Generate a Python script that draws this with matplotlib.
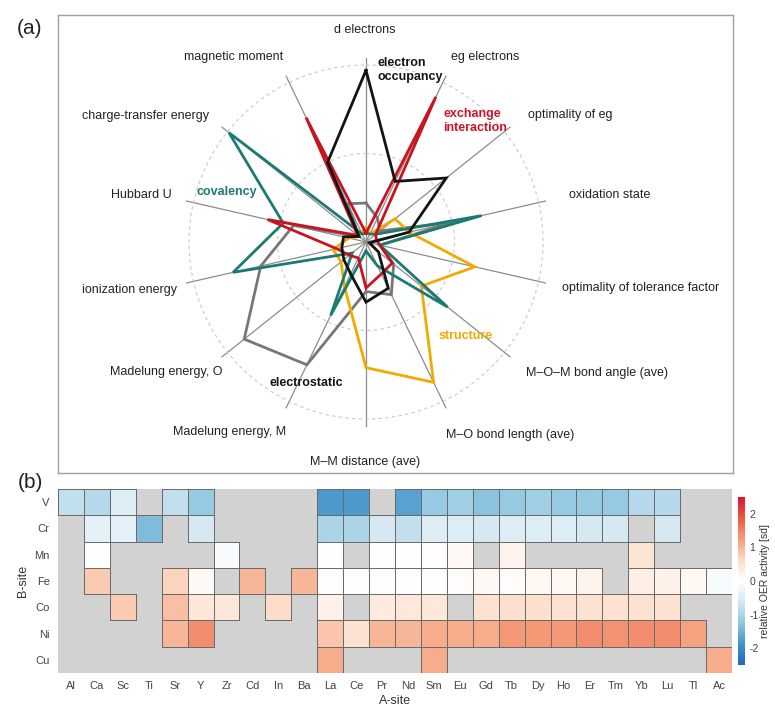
import numpy as np
import matplotlib
matplotlib.use("Agg")
import matplotlib.pyplot as plt
from matplotlib.colors import LinearSegmentedColormap

plt.rcParams['font.family'] = ['Liberation Sans', 'DejaVu Sans']
plt.rcParams['axes.unicode_minus'] = False

# ---------------- data: radar ----------------
spoke_labels = ["d electrons", "eg electrons", "optimality of eg", "oxidation state",
                "optimality of tolerance factor", "M\u2013O\u2013M bond angle (ave)",
                "M\u2013O bond length (ave)", "M\u2013M distance (ave)", "Madelung energy, M",
                "Madelung energy, O", "ionization energy", "Hubbard U",
                "charge-transfer energy", "magnetic moment"]

electron_occupancy = [0.97, 0.38, 0.58, 0.25, 0.02, 0.09, 0.29, 0.34, 0.20, 0.16, 0.14, 0.13, 0.05, 0.50]
exchange_interaction = [0.05, 0.91, 0.07, 0.06, 0.08, 0.19, 0.20, 0.26, 0.10, 0.12, 0.17, 0.57, 0.06, 0.78]
covalency = [0.05, 0.05, 0.07, 0.67, 0.08, 0.59, 0.15, 0.05, 0.46, 0.10, 0.77, 0.48, 0.99, 0.05]
electrostatic = [0.22, 0.15, 0.10, 0.50, 0.08, 0.20, 0.33, 0.28, 0.77, 0.88, 0.61, 0.42, 0.05, 0.24]
structure = [0.08, 0.05, 0.21, 0.25, 0.63, 0.40, 0.88, 0.71, 0.28, 0.18, 0.19, 0.10, 0.05, 0.06]

# ---------------- data: heatmap ----------------
a_sites = ["Al", "Ca", "Sc", "Ti", "Sr", "Y", "Zr", "Cd", "In", "Ba", "La", "Ce", "Pr",
           "Nd", "Sm", "Eu", "Gd", "Tb", "Dy", "Ho", "Er", "Tm", "Yb", "Lu", "Tl", "Ac"]
b_sites = ["V", "Cr", "Mn", "Fe", "Co", "Ni", "Cu"]
N = np.nan
row_V  = [-0.8, -0.9, -0.5, N, -0.8, -1.2, N, N, N, N, -1.8, -1.8, N, -1.7, -1.2, -1.1, -1.3, -1.2, -1.1, -1.2, -1.2, -1.2, -0.9, -0.9, N, N]
row_Cr = [N, -0.4, -0.4, -1.4, N, -0.6, N, N, N, N, -1.0, -1.0, -0.6, -0.8, -0.5, -0.5, -0.6, -0.5, -0.5, -0.5, -0.6, -0.6, N, -0.6, N, N]
row_Mn = [N, 0.0, N, N, N, N, -0.1, N, N, N, 0.0, N, 0.0, 0.0, 0.05, 0.1, N, 0.2, N, N, N, N, 0.45, N, N, N]
row_Fe = [N, 0.8, N, N, 0.7, 0.1, N, 1.0, N, 1.0, -0.05, -0.05, -0.05, 0.0, 0.0, 0.05, 0.1, 0.05, 0.15, 0.15, 0.2, N, 0.3, 0.25, 0.15, -0.15]
row_Co = [N, N, 0.8, N, 0.9, 0.4, 0.4, N, 0.6, N, 0.25, N, 0.35, 0.4, 0.4, N, 0.5, 0.55, 0.55, 0.5, 0.5, 0.5, 0.5, 0.5, N, N]
row_Ni = [N, N, N, N, 1.0, 1.4, N, N, N, N, 0.85, 0.5, 1.0, 1.0, 1.1, 1.1, 1.1, 1.3, 1.3, 1.3, 1.4, 1.35, 1.4, 1.4, 1.2, N]
row_Cu = [N, N, N, N, N, N, N, N, N, N, 1.1, N, N, N, 1.1, N, N, N, N, N, N, N, N, N, N, 1.1]
cbar_ticks = [-2, -1, 0, 1, 2]

W, H = 775, 710
fig = plt.figure(figsize=(W / 100, H / 100), dpi=100)


def fx(x):
    return x / W


def fy(y):
    return 1 - y / H


# frame of panel (a)
axf = fig.add_axes([fx(58), fy(473), (733 - 58) / W, (473 - 15) / H])
axf.set_xticks([])
axf.set_yticks([])
for s in axf.spines.values():
    s.set_color("#a0a0a0")
    s.set_linewidth(1.0)

# radar
cx, cy, R = 366, 242, 177
rmax = 1.1
ax = fig.add_axes([fx(cx - R * rmax), fy(cy + R * rmax), 2 * R * rmax / W, 2 * R * rmax / H],
                  projection="polar")
ax.set_theta_zero_location("N")
ax.set_theta_direction(-1)
ax.set_ylim(0, rmax)
ax.grid(False)
ax.set_xticks([])
ax.set_yticks([])
ax.spines["polar"].set_visible(False)
ax.patch.set_alpha(0)

n = len(spoke_labels)
theta = np.arange(n) * 2 * np.pi / n
for t in theta:
    ax.plot([t, t], [0, 1.04], color="#8c8c8c", lw=0.9, zorder=1)
circ = np.linspace(0, 2 * np.pi, 400)
for rr in (0.5, 1.0):
    ax.plot(circ, np.full_like(circ, rr), color="#c8c8c8", lw=0.8, ls=(0, (3, 3)), zorder=1)

series = [(electrostatic, "#777777"), (structure, "#f2a900"), (covalency, "#1b7a72"),
          (exchange_interaction, "#c8141f"), (electron_occupancy, "#141414")]
for vals, col in series:
    v = np.array(vals + vals[:1])
    th = np.append(theta, theta[0])
    ax.plot(th, v, color=col, lw=2.0, solid_joinstyle="miter", zorder=3)

label_pos = [(365, 30), (485, 57), (570, 115), (610, 195), (641, 288), (597, 373),
             (510, 435), (365, 462), (230, 432), (166, 372), (129, 290), (141, 195),
             (146, 116), (234, 57)]
for lab, (x, y) in zip(spoke_labels, label_pos):
    fig.text(fx(x), fy(y), lab, ha="center", va="center", fontsize=9, color="#222222")

fig.text(fx(377), fy(70), "electron\noccupancy", ha="left", va="center", fontsize=9,
         fontweight="bold", color="#141414", linespacing=1.15)
fig.text(fx(443), fy(121), "exchange\ninteraction", ha="left", va="center", fontsize=9,
         fontweight="bold", color="#d0142a", linespacing=1.15)
fig.text(fx(227), fy(192), "covalency", ha="center", va="center", fontsize=9,
         fontweight="bold", color="#1b7a72")
fig.text(fx(466), fy(336), "structure", ha="center", va="center", fontsize=9,
         fontweight="bold", color="#f2a900")
fig.text(fx(306), fy(383), "electrostatic", ha="center", va="center", fontsize=9,
         fontweight="bold", color="#141414")

fig.text(fx(30), fy(28), "(a)", ha="center", va="center", fontsize=15, color="#222222")
fig.text(fx(30), fy(483), "(b)", ha="center", va="center", fontsize=15, color="#222222")

# heatmap
cmap = LinearSegmentedColormap.from_list("oer", [
    (0.13, 0.40, 0.74), (0.27, 0.58, 0.80), (0.57, 0.78, 0.88), (0.83, 0.91, 0.95),
    (1.0, 1.0, 1.0), (0.99, 0.86, 0.78), (0.96, 0.62, 0.48), (0.91, 0.36, 0.26),
    (0.86, 0.08, 0.20)])
arr = np.array([row_V, row_Cr, row_Mn, row_Fe, row_Co, row_Ni, row_Cu])
data = np.ma.masked_invalid(arr)

axh = fig.add_axes([fx(58), fy(673), (732 - 58) / W, (673 - 489) / H])
axh.set_facecolor("#d2d2d2")
mesh = axh.pcolormesh(np.arange(len(a_sites) + 1), np.arange(len(b_sites) + 1), data,
                      cmap=cmap, vmin=-2.5, vmax=2.5, linewidth=0.7)
valid = ~np.isnan(arr).ravel()
edge_cols = np.zeros((valid.size, 4))
edge_cols[valid] = (0.42, 0.42, 0.42, 1.0)
mesh.set_edgecolors(edge_cols)
axh.set_xlim(0, len(a_sites))
axh.set_ylim(len(b_sites), 0)
axh.set_xticks(np.arange(len(a_sites)) + 0.5)
axh.set_xticklabels(a_sites)
axh.set_yticks(np.arange(len(b_sites)) + 0.5)
axh.set_yticklabels(b_sites)
axh.tick_params(length=0, labelsize=8, labelcolor="#444444", pad=6)
for s in axh.spines.values():
    s.set_visible(False)
axh.set_xlabel("A-site", fontsize=9, color="#333333", labelpad=3)
axh.set_ylabel("B-site", fontsize=9, color="#333333", labelpad=4)

cax = fig.add_axes([fx(738), fy(665), 7 / W, (665 - 497) / H])
cb = fig.colorbar(mesh, cax=cax, ticks=cbar_ticks)
cb.outline.set_visible(False)
cb.ax.tick_params(length=0, labelsize=7.5, labelcolor="#444444", pad=3)
cb.set_label("relative OER activity [sd]", fontsize=7.5, color="#333333", labelpad=1)

fig.savefig("out.png", dpi=100)
